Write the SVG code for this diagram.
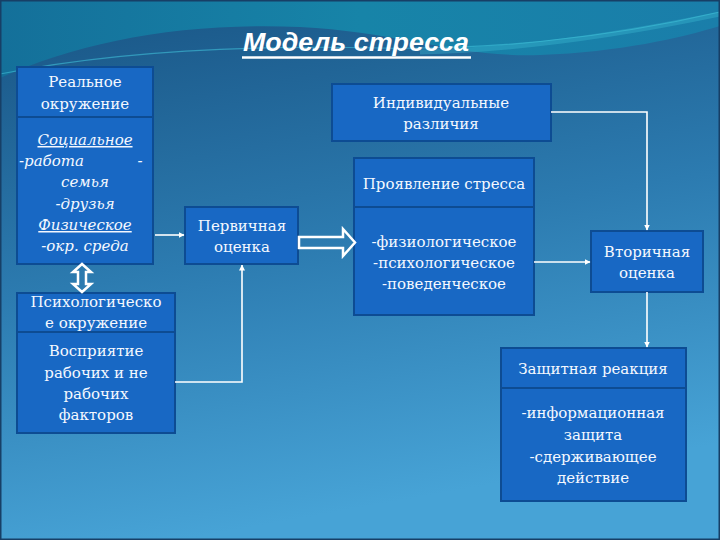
<svg xmlns="http://www.w3.org/2000/svg" width="720" height="540" viewBox="0 0 720 540">
<defs>
<linearGradient id="bg" x1="0" y1="0" x2="0.25" y2="1">
<stop offset="0" stop-color="#1a5787"/>
<stop offset="0.5" stop-color="#2c7bb0"/>
<stop offset="1" stop-color="#47a3d6"/>
</linearGradient>
<linearGradient id="teal" x1="0" y1="0" x2="1" y2="0">
<stop offset="0" stop-color="#14709a"/>
<stop offset="0.5" stop-color="#1784a8"/>
<stop offset="1" stop-color="#1a7eaa"/>
</linearGradient>
<marker id="ah" viewBox="0 0 6 6" refX="5.5" refY="3" markerWidth="6" markerHeight="6" markerUnits="userSpaceOnUse" orient="auto">
<path d="M0,0 L6,3 L0,6 Z" fill="#ffffff"/>
</marker>
<style>
.box{fill:#1868c4;stroke:#0d4c93;stroke-width:2}
.t{font-family:"DejaVu Serif","Liberation Serif",serif;font-size:15px;fill:#f4f8ff;text-anchor:middle}
.t.l{text-anchor:start}
.it{font-style:italic}
.u{text-decoration:underline}
.conn{fill:none;stroke:#ffffff;stroke-width:1.6}
.blk{fill:none;stroke:#ffffff;stroke-width:2.5;stroke-linejoin:miter}
</style>
</defs>
<rect x="0" y="0" width="720" height="540" fill="url(#teal)"/>
<path d="M0,78 C80,42 180,22 300,27 C400,32 460,58 540,55 C620,52 680,38 720,26 V540 H0 Z" fill="url(#bg)"/>
<path d="M0,74 C120,50 250,45 380,48 C480,50 600,40 720,12" fill="none" stroke="#3fc0d8" stroke-width="1.2" opacity="0.6"/>
<path d="M420,52 C520,50 620,35 720,14" fill="none" stroke="#3fc0d8" stroke-width="5" opacity="0.35"/>
<rect x="0.5" y="0.5" width="719" height="539" fill="none" stroke="#173f66" stroke-width="2"/>

<g id="title">
<text x="356" y="51" font-family="Liberation Sans, Arial, sans-serif" font-size="25" font-weight="bold" font-style="italic" fill="#ffffff" text-anchor="middle" textLength="226" lengthAdjust="spacingAndGlyphs">Модель стресса</text>
<line x1="242" y1="57.5" x2="471" y2="57.5" stroke="#ffffff" stroke-width="2.5"/>
</g>

<g id="real-env">
<rect class="box" x="17" y="67" width="136" height="50"/>
<rect class="box" x="17" y="117" width="136" height="147"/>
<text class="t" x="85" y="87">Реальное</text>
<text class="t" x="85" y="109">окружение</text>
<text class="t it u" x="85" y="145">Социальное</text>
<text class="t it l" x="19" y="166">-работа</text>
<text class="t it" x="140" y="166">-</text>
<text class="t it" x="85" y="187">семья</text>
<text class="t it" x="85" y="209">-друзья</text>
<text class="t it u" x="85" y="230">Физическое</text>
<text class="t it" x="85" y="251">-окр. среда</text>
</g>

<g id="psych-env">
<rect class="box" x="17" y="293" width="158" height="39"/>
<rect class="box" x="17" y="332" width="158" height="101"/>
<text class="t" x="96" y="307">Психологическо</text>
<text class="t" x="96" y="328">е окружение</text>
<text class="t" x="96" y="356">Восприятие</text>
<text class="t" x="96" y="378">рабочих и не</text>
<text class="t" x="96" y="399">рабочих</text>
<text class="t" x="96" y="420">факторов</text>
</g>

<g id="primary">
<rect class="box" x="185" y="207" width="113" height="57"/>
<text class="t" x="242" y="231">Первичная</text>
<text class="t" x="242" y="252">оценка</text>
</g>

<g id="individual">
<rect class="box" x="332" y="84" width="219" height="57"/>
<text class="t" x="441" y="108">Индивидуальные</text>
<text class="t" x="441" y="129">различия</text>
</g>

<g id="manifestation">
<rect class="box" x="354" y="158" width="180" height="49"/>
<rect class="box" x="354" y="207" width="180" height="108"/>
<text class="t" x="444" y="189">Проявление стресса</text>
<text class="t" x="444" y="247">-физиологическое</text>
<text class="t" x="444" y="268">-психологическое</text>
<text class="t" x="444" y="289">-поведенческое</text>
</g>

<g id="secondary">
<rect class="box" x="591" y="231" width="112" height="61"/>
<text class="t" x="647" y="257">Вторичная</text>
<text class="t" x="647" y="278">оценка</text>
</g>

<g id="defense">
<rect class="box" x="501" y="348" width="185" height="40"/>
<rect class="box" x="501" y="388" width="185" height="113"/>
<text class="t" x="593" y="374">Защитная реакция</text>
<text class="t" x="593" y="418">-информационная</text>
<text class="t" x="593" y="440">защита</text>
<text class="t" x="593" y="462">-сдерживающее</text>
<text class="t" x="593" y="483">действие</text>
</g>

<g id="connectors">
<path class="conn" d="M155,235 H184" marker-end="url(#ah)"/>
<path class="conn" d="M175,382 H242 V265" marker-end="url(#ah)"/>
<path class="conn" d="M551,112 H647 V230" marker-end="url(#ah)"/>
<path class="conn" d="M534,262 H590" marker-end="url(#ah)"/>
<path class="conn" d="M647,292 V347" marker-end="url(#ah)"/>
<path class="blk" d="M82,264 L91,272 L86,272 L86,284 L91,284 L82,292 L73,284 L78,284 L78,272 L73,272 Z"/>
<path class="blk" d="M299,237 H343 V229 L355,242.5 L343,256 V248 H299 Z"/>
</g>
</svg>
